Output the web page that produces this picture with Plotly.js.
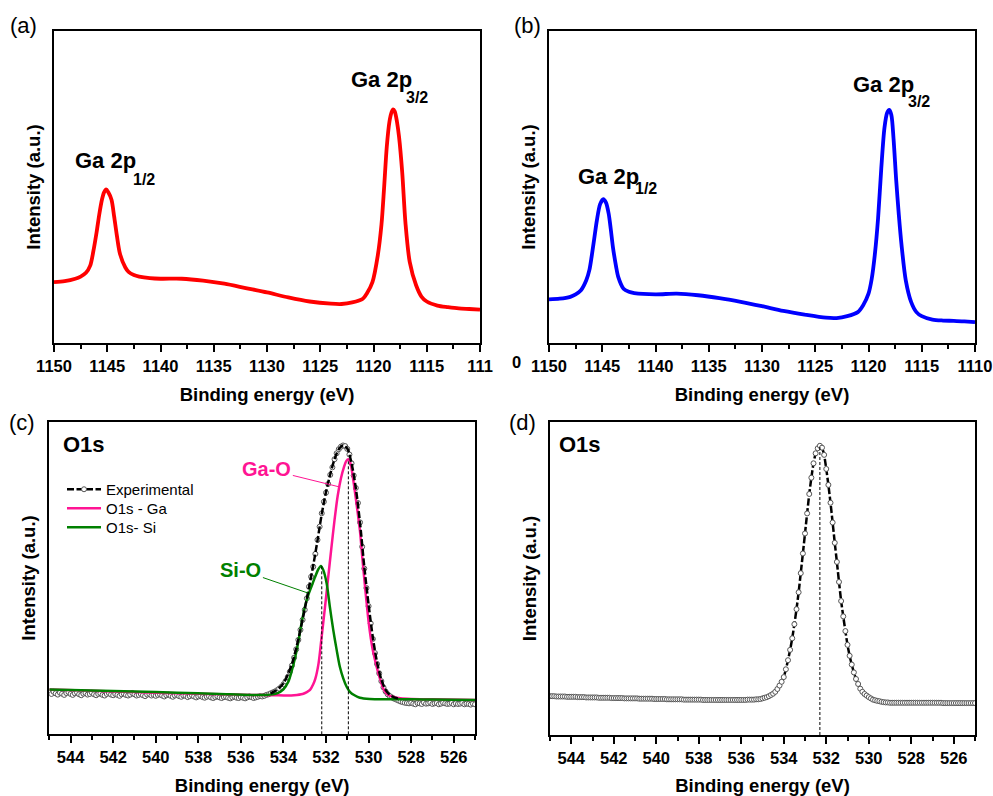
<!DOCTYPE html>
<html><head><meta charset="utf-8">
<script src="https://cdn.plot.ly/plotly-3.0.1.min.js"></script>
<style>html,body{margin:0;padding:0;background:#fff}#chart{width:993px;height:796px}</style>
</head><body><div id="chart"></div>
<script>
// ---------- (a) Ga 2p, red ----------
const energyA = [1150,1149,1148,1147.5,1147,1146.6,1146.3,1146.0,1145.75,1145.5,1145.3,1145.1,1144.9,1144.6,1144.35,1144.1,1143.8,1143.3,1143.0,1142.5,1142,1141,1140,1138,1136,1134,1132,1130,1128,1126,1124,1123,1122,1121,1120.6,1120.1,1119.6,1119.25,1119.0,1118.75,1118.5,1118.3,1118.15,1118.0,1117.8,1117.6,1117.3,1117.0,1116.6,1116.0,1115.5,1115.0,1114,1113,1112,1111,1110];
const intensityA = [19.5,19.8,20.6,21.3,22.5,24.8,29.5,35.5,41.2,45.9,48.3,49.2,48.3,45.9,40.5,34.5,28.5,24.2,22.8,21.8,21.3,20.8,20.6,20.6,20.0,19.0,17.6,16.2,14.6,13.3,12.6,12.5,13.0,14.2,16.0,19.5,28.0,38.0,50.0,63.0,71.0,74.0,74.9,74.2,71.0,66.0,54.5,38.5,26.0,18.5,14.9,13.3,12.0,11.5,11.1,10.9,10.7];

// ---------- (b) Ga 2p, blue ----------
const energyB = [1150,1149,1148,1147.5,1147,1146.5,1146.2,1146,1145.75,1145.5,1145.2,1144.9,1144.65,1144.4,1144.2,1144,1143.7,1143.5,1143,1142.5,1142,1140,1138,1136,1134,1132,1130,1128,1126,1124,1123,1122,1121,1120.5,1120,1119.7,1119.4,1119.1,1118.8,1118.5,1118.25,1118.05,1117.85,1117.65,1117.4,1117.15,1116.9,1116.5,1116,1115.5,1115,1114,1113,1112,1111,1110];
const intensityB = [14.0,14.2,14.8,15.6,16.9,20.1,23.5,27.6,33.5,39.4,44.5,46.1,45.0,41.5,36.5,30.8,24.5,21.2,17.4,16.4,16.0,15.6,15.8,15.3,14.4,13.2,11.8,10.3,9.1,8.1,8.0,8.6,9.9,12.1,15.8,20.5,28.5,40.0,56.0,69.0,73.8,74.7,73.0,65.5,52.2,41.0,31.5,20.1,13.2,9.9,8.6,7.5,7.2,7.1,6.9,6.7];

// ---------- O1s energy grid (c) and (d) ----------
const energyO1s = [
545.0,544.9,544.8,544.7,544.6,544.5,544.4,544.3,544.2,544.1,
544.0,543.9,543.8,543.7,543.6,543.5,543.4,543.3,543.2,543.1,
543.0,542.9,542.8,542.7,542.6,542.5,542.4,542.3,542.2,542.1,
542.0,541.9,541.8,541.7,541.6,541.5,541.4,541.3,541.2,541.1,
541.0,540.9,540.8,540.7,540.6,540.5,540.4,540.3,540.2,540.1,
540.0,539.9,539.8,539.7,539.6,539.5,539.4,539.3,539.2,539.1,
539.0,538.9,538.8,538.7,538.6,538.5,538.4,538.3,538.2,538.1,
538.0,537.9,537.8,537.7,537.6,537.5,537.4,537.3,537.2,537.1,
537.0,536.9,536.8,536.7,536.6,536.5,536.4,536.3,536.2,536.1,
536.0,535.9,535.8,535.7,535.6,535.5,535.4,535.3,535.2,535.1,
535.0,534.9,534.8,534.7,534.6,534.5,534.4,534.3,534.2,534.1,
534.0,533.9,533.8,533.7,533.6,533.5,533.4,533.3,533.2,533.1,
533.0,532.9,532.8,532.7,532.6,532.5,532.4,532.3,532.2,532.1,
532.0,531.9,531.8,531.7,531.6,531.5,531.4,531.3,531.2,531.1,
531.0,530.9,530.8,530.7,530.6,530.5,530.4,530.3,530.2,530.1,
530.0,529.9,529.8,529.7,529.6,529.5,529.4,529.3,529.2,529.1,
529.0,528.9,528.8,528.7,528.6,528.5,528.4,528.3,528.2,528.1,
528.0,527.9,527.8,527.7,527.6,527.5,527.4,527.3,527.2,527.1,
527.0,526.9,526.8,526.7,526.6,526.5,526.4,526.3,526.2,526.1,
526.0,525.9,525.8,525.7,525.6,525.5,525.4,525.3,525.2,525.1,
525.0];

// (c) experimental points
const experimentalC = [
13.4,12.9,13.6,13.1,12.7,13.3,13.0,12.6,13.2,13.5,
12.9,12.6,13.1,13.4,12.8,12.5,13.0,13.2,12.7,12.9,
13.3,12.8,12.5,12.9,13.1,12.6,12.4,12.9,13.2,12.7,
12.5,12.9,12.6,12.3,12.8,13.0,12.6,12.4,12.7,13.2,
12.8,12.4,12.6,12.9,12.5,12.2,12.7,12.9,12.4,12.6,
12.3,12.6,12.8,12.4,12.1,12.5,12.7,12.3,12.0,12.4,
12.6,12.2,12.0,12.4,12.3,11.9,12.2,12.5,12.1,11.8,
12.1,12.3,11.9,11.7,12.0,12.2,11.8,11.6,11.9,12.1,
11.8,11.6,11.9,12.0,11.7,11.5,11.8,12.0,11.7,11.6,
11.9,11.7,11.5,11.8,12.1,11.9,11.6,11.8,12.0,12.2,
12.1,12.3,12.6,12.8,13.1,13.4,13.7,14.1,14.6,15.2,
16.0,17.0,18.3,20.0,22.0,24.5,27.2,30.2,33.4,36.6,
39.8,43.5,47.2,50.4,53.6,57.7,62.2,66.4,70.7,74.4,
77.3,80.1,83.0,85.4,88.0,89.9,91.2,92.0,92.4,92.2,
91.3,89.5,86.7,82.8,78.8,74.0,67.8,60.0,53.0,46.8,
41.0,35.5,30.5,26.0,22.5,19.5,17.0,15.0,13.7,12.8,
12.2,11.8,11.4,11.1,10.8,10.5,10.3,10.1,10.0,9.9,
10.1,9.8,9.6,10.0,9.9,9.7,10.2,9.8,9.9,10.1,
9.7,9.9,10.0,9.6,9.8,10.1,9.9,9.7,9.8,10.0,
9.6,9.9,9.7,9.8,10.0,9.6,9.8,9.7,9.5,9.8,
9.6];

// (c) envelope of the fit (black dashed)
const envEnergy = [534.6,534.4,534.2,534.0,533.8,533.6,533.4,533.2,533.0,532.8,532.6,532.4,532.2,532.0,531.8,531.6,531.4,531.2,531.0,530.8,530.6,530.4,530.2,530.0,529.8,529.6,529.4,529.2,529.0,528.8,528.6];
const envelope = [13.1,13.8,14.8,16.3,19.0,22.5,27.5,33.5,40.0,47.0,54.0,62.0,70.5,77.5,83.2,88.0,91.2,92.4,91.4,86.7,78.8,67.5,53.5,41.5,31.0,23.0,17.5,14.2,12.6,11.8,11.4];

// (c) O1s - Ga component
const gaEnergy = [545,543,541,539,537,535.5,534.5,533.8,533.5,533.1,532.9,532.75,532.6,532.5,532.35,532.2,532.05,531.9,531.75,531.6,531.45,531.3,531.15,531.05,530.95,530.85,530.72,530.56,530.41,530.27,530.12,529.99,529.83,529.66,529.47,529.28,529.08,528.85,528.5,528.0,527.0,525.0];
const gaFit = [14.3,13.9,13.5,13.1,12.8,12.6,12.5,12.4,12.5,12.9,13.5,14.2,16.0,17.8,22.7,31.5,40.5,50.0,59.5,68.5,76.3,81.8,85.6,87.4,88.0,86.7,81.4,73.4,65.4,54.7,44.0,35.5,28.0,22.7,17.9,14.2,12.6,12.0,11.5,11.3,11.2,11.0];

// (c) O1s - Si component
const siEnergy = [545,543,541,539,537,535.5,534.8,534.3,534.0,533.77,533.62,533.46,533.3,533.15,532.99,532.83,532.67,532.52,532.36,532.24,532.13,531.97,531.82,531.66,531.5,531.35,531.19,531.03,530.88,530.64,530.41,529.94,529.15,528.0,527.0,525.0];
const siFit = [14.3,14.0,13.7,13.3,12.9,12.6,12.6,13.1,14.4,16.8,20.0,24.3,29.6,35.5,40.8,44.6,47.5,50.2,52.8,53.85,52.6,48.3,40.8,33.4,27.0,21.6,17.9,15.2,13.6,12.4,11.7,11.3,11.2,11.2,11.1,11.0];

// (d) experimental
const experimentalD = [
12.4,12.4,12.4,12.3,12.3,12.3,12.3,12.3,12.2,12.2,
12.2,12.2,12.2,12.1,12.1,12.1,12.1,12.0,12.0,12.0,
12.0,12.0,12.0,11.9,11.9,11.9,11.9,11.9,11.9,11.8,
11.8,11.8,11.8,11.8,11.8,11.7,11.7,11.7,11.7,11.7,
11.7,11.7,11.6,11.6,11.6,11.6,11.6,11.6,11.6,11.5,
11.5,11.5,11.5,11.5,11.5,11.4,11.4,11.4,11.4,11.4,
11.4,11.4,11.4,11.3,11.3,11.3,11.3,11.3,11.3,11.3,
11.3,11.3,11.2,11.2,11.2,11.2,11.2,11.2,11.2,11.2,
11.2,11.2,11.2,11.2,11.2,11.2,11.2,11.2,11.2,11.2,
11.2,11.2,11.2,11.3,11.3,11.3,11.3,11.4,11.4,11.5,
11.7,11.9,12.1,12.4,12.8,13.2,13.8,14.7,15.8,17.0,
18.5,21.0,23.9,27.2,30.9,35.4,40.2,45.6,51.7,58.0,
64.4,70.8,77.0,82.2,86.8,90.0,91.6,92.4,91.8,89.5,
85.0,79.9,74.2,67.9,61.4,55.3,48.9,42.8,37.9,33.2,
28.8,25.3,22.5,20.0,17.9,16.3,14.8,13.8,13.1,12.6,
12.1,11.7,11.3,11.1,10.9,10.8,10.6,10.5,10.4,10.4,
10.3,10.3,10.3,10.3,10.3,10.3,10.3,10.3,10.3,10.3,
10.3,10.3,10.3,10.3,10.3,10.3,10.3,10.3,10.3,10.3,
10.3,10.3,10.3,10.3,10.3,10.2,10.2,10.2,10.2,10.2,
10.2,10.2,10.2,10.2,10.2,10.2,10.2,10.2,10.2,10.2,
10.2];

// peak position markers (dashed verticals)
const peakPosC = [532.2, 530.95];
const peakTopC = [53.85, 88.0];
const peakPosD = [532.3];
const peakTopD = [92.4];

// ---------- helpers ----------
const W = 993, H = 796;
const PX = v => v / W, PY = v => 1 - v / H;
const FONT = '"Liberation Sans", Arial, Helvetica, sans-serif';
const PINK = '#FF1493', GREEN = '#008000';

function vlines(pos, top) {
  const x = [], y = [];
  pos.forEach((p, i) => { x.push(p, p, null); y.push(0, top[i], null); });
  return {x, y};
}

const titleFont = {family: FONT, size: 18.5, weight: 'bold', color: '#000'};
const tickFont = {family: FONT, size: 16.5, weight: 'bold', color: '#000'};

function xAxis(domain, range, anchor, dtick, tick0, minorDtick, extra) {
  return Object.assign({
    domain, range, anchor, dtick, tick0, tickmode: 'linear',
    showline: true, mirror: true, linewidth: 2, linecolor: '#000',
    ticks: 'outside', ticklen: 7, tickwidth: 2, tickcolor: '#000',
    minor: {dtick: minorDtick, tick0: tick0, ticks: 'outside', ticklen: 4, tickwidth: 2, tickcolor: '#000', showgrid: false},
    tickfont: tickFont, showgrid: false, zeroline: false, fixedrange: true,
    title: {text: 'Binding energy (eV)', font: titleFont, standoff: 14}
  }, extra || {});
}
function yAxis(domain, anchor) {
  return {
    domain, anchor, range: [0, 100],
    showline: true, mirror: true, linewidth: 2, linecolor: '#000',
    ticks: '', showticklabels: false, showgrid: false, zeroline: false, fixedrange: true,
    title: {text: 'Intensity (a.u.)', font: titleFont, standoff: 7}
  };
}

const vC = vlines(peakPosC, peakTopC);
const vD = vlines(peakPosD, peakTopD);

const markerO = {symbol: 'circle', size: 5, color: '#fff', line: {color: '#555', width: 1}};
const DASH = '7px,2.5px';

const data = [
  {x: energyA, y: intensityA, xaxis: 'x', yaxis: 'y', mode: 'lines', showlegend: false,
   line: {color: '#FF0000', width: 3.8, shape: 'spline', smoothing: 0.8}},
  {x: energyB, y: intensityB, xaxis: 'x2', yaxis: 'y2', mode: 'lines', showlegend: false,
   line: {color: '#0000FF', width: 3.8, shape: 'spline', smoothing: 0.8}},
  {x: [null], y: [null], xaxis: 'x3', yaxis: 'y3', mode: 'lines+markers', name: 'Experimental', legend: 'legend',
   line: {color: '#000', width: 2.5, dash: DASH}, marker: markerO},
  {x: energyO1s, y: experimentalC, xaxis: 'x3', yaxis: 'y3', mode: 'markers', showlegend: false,
   marker: markerO},
  {x: gaEnergy, y: gaFit, xaxis: 'x3', yaxis: 'y3', mode: 'lines', name: 'O1s - Ga', legend: 'legend2',
   line: {color: PINK, width: 2.5, shape: 'spline', smoothing: 0.8}},
  {x: siEnergy, y: siFit, xaxis: 'x3', yaxis: 'y3', mode: 'lines', name: 'O1s- Si', legend: 'legend3',
   line: {color: GREEN, width: 2.5, shape: 'spline', smoothing: 0.8}},
  {x: envEnergy, y: envelope, xaxis: 'x3', yaxis: 'y3', mode: 'lines', showlegend: false,
   line: {color: '#000', width: 2.5, dash: DASH, shape: 'spline', smoothing: 0.8}},
  {x: vC.x, y: vC.y, xaxis: 'x3', yaxis: 'y3', mode: 'lines', showlegend: false,
   line: {color: '#000', width: 1, dash: '3px,2px'}},
  {x: energyO1s, y: experimentalD, xaxis: 'x4', yaxis: 'y4', mode: 'lines+markers', showlegend: false,
   line: {color: '#000', width: 2.5, dash: DASH, shape: 'spline', smoothing: 0.6}, marker: markerO},
  {x: vD.x, y: vD.y, xaxis: 'x4', yaxis: 'y4', mode: 'lines', showlegend: false,
   line: {color: '#000', width: 1, dash: '3px,2px'}}
];

const ann = [];
function txt(text, x, y, size, opts) {
  ann.push(Object.assign({text, x, y, xref: 'paper', yref: 'paper', showarrow: false,
    xanchor: 'left', yanchor: 'middle', font: {family: FONT, size, color: '#000', weight: 'bold'}}, opts || {}));
}
// panel labels
[['(a)', 23, 26], ['(b)', 527, 26], ['(c)', 22, 422], ['(d)', 522, 422]].forEach(([t, x, y]) =>
  txt(t, PX(x), PY(y), 22, {xanchor: 'center', font: {family: FONT, size: 22, color: '#000', weight: 'normal'}}));
// Ga 2p labels
txt('Ga 2p', PX(73), PY(161), 22); txt('1/2', PX(131), PY(179), 16);
txt('Ga 2p', PX(349), PY(79), 22); txt('3/2', PX(404), PY(97.5), 16);
txt('Ga 2p', PX(576), PY(176), 22); txt('1/2', PX(633), PY(188), 16);
txt('Ga 2p', PX(851), PY(84.5), 22); txt('3/2', PX(906), PY(102), 16);
// O1s
txt('O1s', PX(61), PY(445), 22); txt('O1s', PX(557), PY(445), 22);
// stray cropped digit
txt('0', PX(516), PY(362), 16.5, {xanchor: 'center'});
// Ga-O / Si-O callouts
ann.push({text: 'Ga-O', x: 531.35, y: 79.1, xref: 'x3', yref: 'y3', showarrow: true, arrowhead: 0,
  arrowwidth: 1, arrowcolor: PINK, ax: -73, ay: -18, font: {family: FONT, size: 20, color: PINK, weight: 'bold'}});
ann.push({text: 'Si-O', x: 532.85, y: 45.2, xref: 'x3', yref: 'y3', showarrow: true, arrowhead: 0,
  arrowwidth: 1, arrowcolor: GREEN, ax: -67, ay: -23, font: {family: FONT, size: 20, color: GREEN, weight: 'bold'}});

function leg(top) {
  return {x: PX(62), y: PY(top), xanchor: 'left', yanchor: 'top', bgcolor: 'rgba(0,0,0,0)',
    borderwidth: 0, itemwidth: 34, font: {family: FONT, size: 15, color: '#000'}};
}

const layout = {
  width: W, height: H, margin: {l: 0, r: 0, t: 0, b: 0},
  paper_bgcolor: '#fff', plot_bgcolor: '#fff',
  font: {family: FONT, color: '#000'},
  xaxis: xAxis([PX(54), PX(480)], [1150, 1110], 'y', 5, 1110, 2.5, {labelalias: {'1110': '111'}}),
  yaxis: yAxis([PY(343), PY(31)], 'x'),
  xaxis2: xAxis([PX(549), PX(975)], [1150, 1110], 'y2', 5, 1110, 2.5),
  yaxis2: yAxis([PY(343), PY(31)], 'x2'),
  xaxis3: xAxis([PX(49.3), PX(475)], [545, 525], 'y3', 2, 526, 1),
  yaxis3: yAxis([PY(734.3), PY(421.7)], 'x3'),
  xaxis4: xAxis([PX(550), PX(975)], [545, 525], 'y4', 2, 526, 1),
  yaxis4: yAxis([PY(735), PY(422)], 'x4'),
  showlegend: true,
  legend: leg(473),
  legend2: leg(492),
  legend3: leg(511),
  annotations: ann
};

Plotly.newPlot('chart', data, layout, {staticPlot: true, displayModeBar: false});
</script></body></html>
